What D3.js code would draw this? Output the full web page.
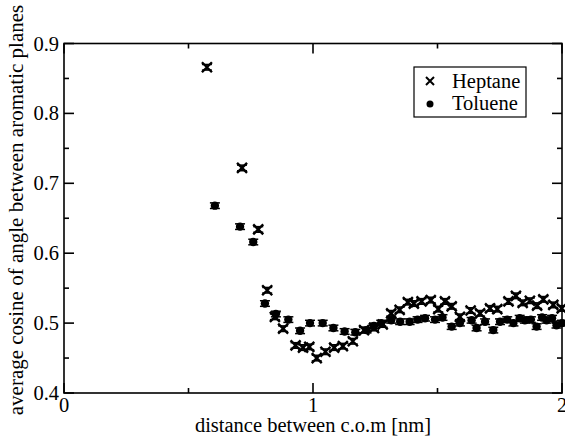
<!DOCTYPE html>
<html>
<head>
<meta charset="utf-8">
<script src="https://cdn.jsdelivr.net/npm/d3@7"></script>
<style>
  html, body { margin: 0; padding: 0; background: #fff; }
  svg { display: block; }
  text { font-family: "Liberation Serif", "DejaVu Serif", serif; fill: #000; }
</style>
</head>
<body>
<svg id="chart" width="565" height="436"></svg>
<script>
// Heptane: distance (nm) and average cosine
const heptaneX = [0.574, 0.715, 0.780, 0.816, 0.847, 0.880, 0.930, 0.960, 0.985, 1.015,
  1.050, 1.085, 1.120, 1.160, 1.205, 1.245, 1.280, 1.314, 1.348, 1.381,
  1.405, 1.436, 1.473, 1.503, 1.530, 1.557, 1.590, 1.633, 1.671, 1.711,
  1.740, 1.785, 1.815, 1.842, 1.871, 1.900, 1.925, 1.965, 1.999];
const heptaneY = [0.866, 0.722, 0.634, 0.547, 0.509, 0.492, 0.468, 0.465, 0.466, 0.450,
  0.459, 0.465, 0.467, 0.474, 0.490, 0.493, 0.498, 0.514, 0.519, 0.530,
  0.528, 0.531, 0.533, 0.520, 0.531, 0.524, 0.509, 0.518, 0.514, 0.521,
  0.520, 0.531, 0.539, 0.529, 0.532, 0.525, 0.534, 0.526, 0.521];

// Toluene: distance (nm) and average cosine
const tolueneX = [0.606, 0.707, 0.760, 0.807, 0.851, 0.901, 0.948, 0.988, 1.039, 1.082,
  1.127, 1.170, 1.215, 1.245, 1.274, 1.314, 1.350, 1.388, 1.420, 1.450,
  1.490, 1.520, 1.557, 1.590, 1.637, 1.657, 1.691, 1.724, 1.751, 1.780,
  1.805, 1.830, 1.851, 1.875, 1.898, 1.920, 1.938, 1.960, 1.978, 2.000];
const tolueneY = [0.668, 0.638, 0.616, 0.528, 0.513, 0.505, 0.489, 0.500, 0.500, 0.493,
  0.488, 0.487, 0.490, 0.496, 0.500, 0.504, 0.502, 0.502, 0.505, 0.507,
  0.505, 0.508, 0.495, 0.500, 0.504, 0.493, 0.502, 0.490, 0.502, 0.505,
  0.500, 0.507, 0.504, 0.505, 0.495, 0.508, 0.504, 0.507, 0.497, 0.500];

// Half-width of the error bars (same for every point)
const errHalf = 0.004;

const xTicks = [0, 1, 2];
const xMinor = [0.5, 1.5];
const yTicks = [0.4, 0.5, 0.6, 0.7, 0.8, 0.9];
const yMinor = [0.45, 0.55, 0.65, 0.75, 0.85];
const xTitle = "distance between c.o.m [nm]";
const yTitle = "average cosine of angle between aromatic planes";
const legendNames = ["Heptane", "Toluene"];

const svg = d3.select("#chart");
const plotL = 64, plotR = 562, plotT = 43.5, plotB = 393;
const fs = 20.5;

const x = d3.scaleLinear().domain([0, 2]).range([plotL, plotR]);
const y = d3.scaleLinear().domain([0.4, 0.9]).range([plotB, plotT]);

const heptane = heptaneX.map((v, i) => ({ x: v, y: heptaneY[i] }));
const toluene = tolueneX.map((v, i) => ({ x: v, y: tolueneY[i] }));

// error bars
function errorBars(data) {
  const g = svg.append("g").attr("stroke", "#000").attr("stroke-width", 1.5);
  g.selectAll("line.v").data(data).join("line")
    .attr("x1", d => x(d.x)).attr("x2", d => x(d.x))
    .attr("y1", d => y(d.y - errHalf)).attr("y2", d => y(d.y + errHalf));
  [errHalf, -errHalf].forEach(e => {
    g.selectAll(null).data(data).join("line")
      .attr("x1", d => x(d.x) - 5).attr("x2", d => x(d.x) + 5)
      .attr("y1", d => y(d.y + e)).attr("y2", d => y(d.y + e));
  });
}
errorBars(toluene);
errorBars(heptane);

// toluene: filled circles
svg.append("g").selectAll("circle").data(toluene).join("circle")
  .attr("cx", d => x(d.x)).attr("cy", d => y(d.y)).attr("r", 4.2).attr("fill", "#000");

// heptane: crosses
const cross = (cx, cy, s) => `M${cx - s},${cy - s}L${cx + s},${cy + s}M${cx - s},${cy + s}L${cx + s},${cy - s}`;
svg.append("g").selectAll("path").data(heptane).join("path")
  .attr("d", d => cross(x(d.x), y(d.y), 5))
  .attr("stroke", "#000").attr("stroke-width", 2.4).attr("fill", "none");

// frame
svg.append("rect").attr("x", plotL).attr("y", plotT)
  .attr("width", plotR - plotL).attr("height", plotB - plotT)
  .attr("fill", "none").attr("stroke", "#000").attr("stroke-width", 1.6);

// inward ticks on all four sides
const tk = svg.append("g").attr("stroke", "#000").attr("stroke-width", 1.6);
function xt(vals, len) {
  vals.forEach(v => {
    tk.append("line").attr("x1", x(v)).attr("x2", x(v)).attr("y1", plotB).attr("y2", plotB - len);
    tk.append("line").attr("x1", x(v)).attr("x2", x(v)).attr("y1", plotT).attr("y2", plotT + len);
  });
}
function yt(vals, len) {
  vals.forEach(v => {
    tk.append("line").attr("y1", y(v)).attr("y2", y(v)).attr("x1", plotL).attr("x2", plotL + len);
    tk.append("line").attr("y1", y(v)).attr("y2", y(v)).attr("x1", plotR).attr("x2", plotR - len);
  });
}
xt(xTicks, 10); xt(xMinor, 5);
yt(yTicks, 10); yt(yMinor, 5);

// tick labels
svg.append("g").selectAll("text").data(xTicks).join("text")
  .attr("x", d => x(d)).attr("y", 412).attr("text-anchor", "middle")
  .attr("font-size", fs).text(d => d3.format("d")(d));
svg.append("g").selectAll("text").data(yTicks).join("text")
  .attr("x", 59).attr("y", d => y(d) + 7).attr("text-anchor", "end")
  .attr("font-size", fs).text(d => d3.format(".1f")(d));

// axis titles
svg.append("text").attr("x", x(1)).attr("y", 432).attr("text-anchor", "middle")
  .attr("font-size", fs).text(xTitle);
svg.append("text").attr("transform", "translate(23,210) rotate(-90)")
  .attr("text-anchor", "middle").attr("font-size", 21).text(yTitle);

// legend
const lg = svg.append("g");
lg.append("rect").attr("x", 414).attr("y", 67).attr("width", 112).attr("height", 50)
  .attr("fill", "#fff").attr("stroke", "#000").attr("stroke-width", 1.2);
lg.append("path").attr("d", cross(430, 81, 4)).attr("stroke", "#000").attr("stroke-width", 2).attr("fill", "none");
lg.append("circle").attr("cx", 430).attr("cy", 104).attr("r", 3.5).attr("fill", "#000");
lg.selectAll("text").data(legendNames).join("text")
  .attr("x", 452).attr("y", (d, i) => 88 + i * 22).attr("font-size", fs).text(d => d);
</script>
</body>
</html>
